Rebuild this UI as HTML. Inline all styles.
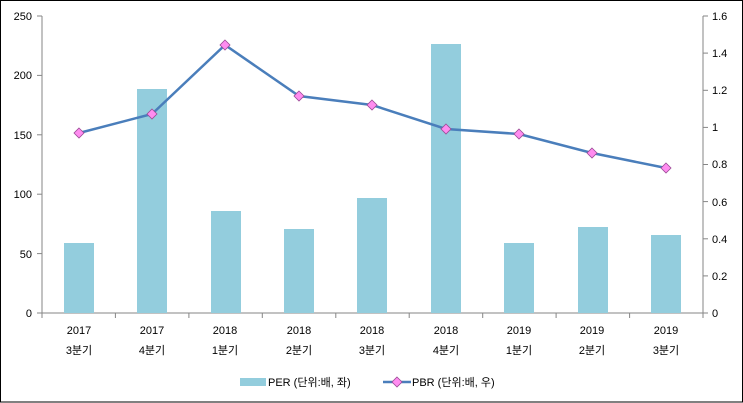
<!DOCTYPE html><html><head><style>body{margin:0;background:#fff}svg{display:block}text{font-family:"Liberation Sans","Noto Sans CJK KR",sans-serif;font-size:11px;fill:#000}</style></head><body>
<svg width="743" height="403" viewBox="0 0 743 403">
<rect x="0.5" y="0.5" width="742" height="401.5" fill="#fff" stroke="#000"/>
<g stroke="#868686" fill="none">
<line x1="42" y1="16" x2="42" y2="313"/><line x1="703" y1="16" x2="703" y2="313"/>
<line x1="42" y1="313" x2="703" y2="313"/>
</g>
<g stroke="#868686">
<line x1="37" y1="16" x2="42" y2="16"/><line x1="37" y1="75.4" x2="42" y2="75.4"/><line x1="37" y1="134.8" x2="42" y2="134.8"/><line x1="37" y1="194.2" x2="42" y2="194.2"/><line x1="37" y1="253.6" x2="42" y2="253.6"/><line x1="37" y1="313" x2="42" y2="313"/>
<line x1="703" y1="16" x2="708" y2="16"/><line x1="703" y1="53.1" x2="708" y2="53.1"/><line x1="703" y1="90.3" x2="708" y2="90.3"/><line x1="703" y1="127.4" x2="708" y2="127.4"/><line x1="703" y1="164.5" x2="708" y2="164.5"/><line x1="703" y1="201.6" x2="708" y2="201.6"/><line x1="703" y1="238.8" x2="708" y2="238.8"/><line x1="703" y1="275.9" x2="708" y2="275.9"/><line x1="703" y1="313" x2="708" y2="313"/>
<line x1="115.4" y1="313" x2="115.4" y2="318"/><line x1="188.9" y1="313" x2="188.9" y2="318"/><line x1="262.3" y1="313" x2="262.3" y2="318"/><line x1="335.8" y1="313" x2="335.8" y2="318"/><line x1="409.2" y1="313" x2="409.2" y2="318"/><line x1="482.7" y1="313" x2="482.7" y2="318"/><line x1="556.1" y1="313" x2="556.1" y2="318"/><line x1="629.6" y1="313" x2="629.6" y2="318"/><line x1="42" y1="313" x2="42" y2="318"/><line x1="703" y1="313" x2="703" y2="318"/>
</g>
<g text-anchor="end"><text x="32" y="20">250</text><text x="32" y="79">200</text><text x="32" y="139">150</text><text x="32" y="198">100</text><text x="32" y="258">50</text><text x="32" y="317">0</text></g>
<g><text x="712" y="20">1.6</text><text x="712" y="57">1.4</text><text x="712" y="94">1.2</text><text x="712" y="131">1</text><text x="712" y="168">0.8</text><text x="712" y="206">0.6</text><text x="712" y="243">0.4</text><text x="712" y="280">0.2</text><text x="712" y="317">0</text></g>
<g fill="#93CDDD">
<rect x="64" y="243" width="30" height="70"/><rect x="137" y="89" width="30" height="224"/><rect x="211" y="211" width="30" height="102"/><rect x="284" y="229" width="30" height="84"/><rect x="357" y="198" width="30" height="115"/><rect x="431" y="44" width="30" height="269"/><rect x="504" y="243" width="30" height="70"/><rect x="578" y="227" width="30" height="86"/><rect x="651" y="235" width="30" height="78"/>
</g>
<polyline points="79,133 152,114 225,45 299,96 372,105 446,129 519,134 592,153 666,168" fill="none" stroke="#4A7EBB" stroke-width="2.5"/>
<g fill="#FF8CF0" stroke="#9A4B95" stroke-width="0.8">
<path d="M79,128l5,5-5,5-5-5z"/><path d="M152,109l5,5-5,5-5-5z"/><path d="M225,40l5,5-5,5-5-5z"/><path d="M299,91l5,5-5,5-5-5z"/><path d="M372,100l5,5-5,5-5-5z"/><path d="M446,124l5,5-5,5-5-5z"/><path d="M519,129l5,5-5,5-5-5z"/><path d="M592,148l5,5-5,5-5-5z"/><path d="M666,163l5,5-5,5-5-5z"/>
</g>
<g text-anchor="middle">
<text x="79" y="334">2017</text><text x="152" y="334">2017</text><text x="225" y="334">2018</text><text x="299" y="334">2018</text><text x="372" y="334">2018</text><text x="446" y="334">2018</text><text x="519" y="334">2019</text><text x="592" y="334">2019</text><text x="666" y="334">2019</text>
<text x="79" y="354">3분기</text><text x="152" y="354">4분기</text><text x="225" y="354">1분기</text><text x="299" y="354">2분기</text><text x="372" y="354">3분기</text><text x="446" y="354">4분기</text><text x="519" y="354">1분기</text><text x="592" y="354">2분기</text><text x="666" y="354">3분기</text>
</g>
<rect x="240" y="378" width="26" height="8" fill="#93CDDD"/>
<text x="268" y="386">PER (단위:배, 좌)</text>
<line x1="383" y1="382" x2="411" y2="382" stroke="#4A7EBB" stroke-width="2.5"/>
<path d="M397,377l5,5-5,5-5-5z" fill="#FF8CF0" stroke="#9A4B95" stroke-width="0.8"/>
<text x="412" y="386">PBR (단위:배, 우)</text>
</svg></body></html>
